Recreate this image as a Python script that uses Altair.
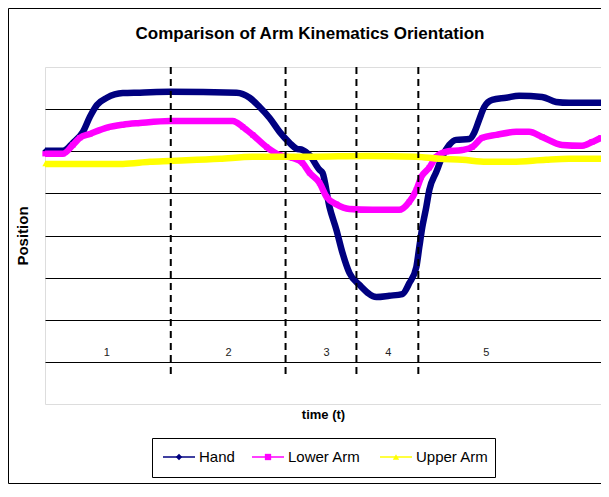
import altair as alt
import pandas as pd

TITLE = "Comparison of Arm Kinematics Orientation"
X_TITLE = "time (t)"
Y_TITLE = "Position"

SERIES = ["Hand", "Lower Arm", "Upper Arm"]
COLORS = ["#000080", "#FF00FF", "#FFFF00"]
SHAPES = ["diamond", "square", "triangle-up"]

T_HAND = [0, 9, 14, 19, 22.5, 26, 31, 39, 47.5, 62.5, 96, 102.5, 107.5, 112.5, 117.5,
          122.5, 126, 129, 132.5, 137.5, 139, 142.5, 146, 149, 152.5, 157.5, 166, 172.5,
          179, 182.5, 186, 187.5, 189, 191, 192.5, 196, 199, 202.5, 206, 212.5, 215,
          217.5, 220, 224, 231, 237.5, 249, 256, 262.5, 278.5]
V_HAND = [6.01, 6.01, 6.20, 6.46, 6.82, 7.10, 7.27, 7.38, 7.39, 7.41, 7.39, 7.27, 7.05,
          6.79, 6.46, 6.20, 6.06, 6.03, 5.91, 5.56, 5.49, 4.68, 4.13, 3.59, 3.11, 2.83,
          2.54, 2.57, 2.61, 2.87, 3.25, 3.73, 4.20, 4.68, 5.08, 5.51, 5.87, 6.15, 6.27,
          6.29, 6.44, 6.75, 7.05, 7.22, 7.27, 7.32, 7.29, 7.17, 7.15, 7.15]

T_LOWER = [0, 9, 14, 17.5, 22.5, 31, 39, 47.5, 62.5, 94, 99, 104, 111, 117.5, 124, 129,
           132.5, 137.5, 141, 146, 152.5, 164, 177.5, 182.5, 186, 188.5, 192.5, 196,
           201, 209, 214, 219, 226, 236, 242.5, 249, 259, 269, 274, 278.5]
V_LOWER = [5.94, 5.94, 6.15, 6.32, 6.41, 6.56, 6.63, 6.67, 6.72, 6.72, 6.58, 6.39, 6.10,
           5.91, 5.84, 5.72, 5.49, 5.25, 4.92, 4.74, 4.63, 4.61, 4.61, 4.80, 5.08, 5.39,
           5.61, 5.87, 5.99, 6.03, 6.10, 6.32, 6.39, 6.46, 6.46, 6.34, 6.15, 6.13, 6.22,
           6.32]

T_UPPER = [0, 39, 52.5, 62.5, 87.5, 104, 121, 132.5, 161, 186, 197.5, 209, 221, 234,
           251, 262.5, 278.5]
V_UPPER = [5.70, 5.70, 5.75, 5.77, 5.82, 5.87, 5.87, 5.87, 5.89, 5.87, 5.82, 5.80, 5.75,
           5.75, 5.80, 5.82, 5.82]

BOUNDARIES = [63, 120.5, 156, 187]
REGION_T = [31, 92, 141, 172, 221]
REGION_LABELS = ["1", "2", "3", "4", "5"]
REGION_LEVEL = 1.21
DASH_TOP, DASH_BOTTOM = 8, 0.62

FONT = "Liberation Sans"
W, H = 556, 337

xscale = alt.Scale(domain=[0, 278.5], nice=False, zero=False)
yscale = alt.Scale(domain=[0, 8], nice=False, zero=False)
xaxis = alt.Axis(labels=False, ticks=False, domain=False, grid=False, title=X_TITLE,
                 titleFont=FONT, titleFontSize=13, titleFontWeight="bold",
                 titleColor="black", titlePadding=4)
yaxis = alt.Axis(values=[1, 2, 3, 4, 5, 6, 7], labels=False, ticks=False, domain=False,
                 grid=True, gridColor="black", gridOpacity=1, gridWidth=1,
                 title=Y_TITLE, titleFont=FONT, titleFontSize=15,
                 titleFontWeight="bold", titleColor="black", titlePadding=15)

series_data = [(T_HAND, V_HAND), (T_LOWER, V_LOWER), (T_UPPER, V_UPPER)]
layers = []
for name, (ts, vs), col, shp in zip(SERIES, series_data, COLORS, SHAPES):
    df = pd.DataFrame({"t": ts, "v": vs, "series": name})
    base = alt.Chart(df).encode(
        x=alt.X("t:Q", scale=xscale, axis=xaxis),
        y=alt.Y("v:Q", scale=yscale, axis=yaxis),
    )
    layers.append(base.mark_line(color=col, strokeWidth=6.5, interpolate="monotone"))
    layers.append(base.mark_point(shape=shp, filled=True, color=col, size=28, opacity=1))

# dashed phase boundaries
bdf = pd.DataFrame({"t": BOUNDARIES})
layers.append(alt.Chart(bdf).mark_rule(color="black", strokeWidth=2, strokeDash=[7, 5]).encode(
    x=alt.X("t:Q", scale=xscale, axis=xaxis),
    y=alt.datum(DASH_TOP), y2=alt.datum(DASH_BOTTOM)))

# phase labels
rdf = pd.DataFrame({"t": REGION_T, "v": [REGION_LEVEL] * len(REGION_T), "lab": REGION_LABELS})
layers.append(alt.Chart(rdf).mark_text(font=FONT, fontSize=11, color="#222222").encode(
    x=alt.X("t:Q", scale=xscale, axis=xaxis),
    y=alt.Y("v:Q", scale=yscale, axis=yaxis), text="lab:N"))

# title
tdf = pd.DataFrame({"txt": [TITLE]})
layers.append(alt.Chart(tdf).mark_text(font=FONT, fontSize=17, fontWeight="bold",
                                       color="black", align="center",
                                       baseline="alphabetic").encode(
    x=alt.value(265), y=alt.value(-28), text="txt:N"))

# outer chart border
layers.append(alt.Chart(tdf).mark_rect(fill=None, stroke="black", strokeWidth=1).encode(
    x=alt.value(-36.5), x2=alt.value(562.5), y=alt.value(-58.5), y2=alt.value(416.5)))

# legend
LEG_X0 = [118, 207, 335]
LEG_Y = 390
layers.append(alt.Chart(tdf).mark_rect(fill="white", stroke="black", strokeWidth=1).encode(
    x=alt.value(107.5), x2=alt.value(450.5), y=alt.value(371.5), y2=alt.value(410.5)))
for name, col, shp, x0 in zip(SERIES, COLORS, SHAPES, LEG_X0):
    ldf = pd.DataFrame({"name": [name]})
    layers.append(alt.Chart(ldf).mark_rule(color=col, strokeWidth=1.5).encode(
        x=alt.value(x0), x2=alt.value(x0 + 32), y=alt.value(LEG_Y)))
    layers.append(alt.Chart(ldf).mark_point(shape=shp, filled=True, color=col, size=40,
                                            opacity=1).encode(
        x=alt.value(x0 + 16), y=alt.value(LEG_Y)))
    layers.append(alt.Chart(ldf).mark_text(font=FONT, fontSize=15, color="black",
                                           align="left", baseline="middle").encode(
        x=alt.value(x0 + 36), y=alt.value(LEG_Y), text="name:N"))

chart = alt.layer(*layers).properties(
    width=W, height=H,
    autosize=alt.AutoSizeParams(type="none"),
    padding={"left": 37, "top": 59, "right": 0, "bottom": 80},
).configure_view(fill="#C0C0C0", stroke="#808080", strokeWidth=1
).configure(background="white")

chart.save("out.html", embed_options={"renderer": "svg", "actions": False})
